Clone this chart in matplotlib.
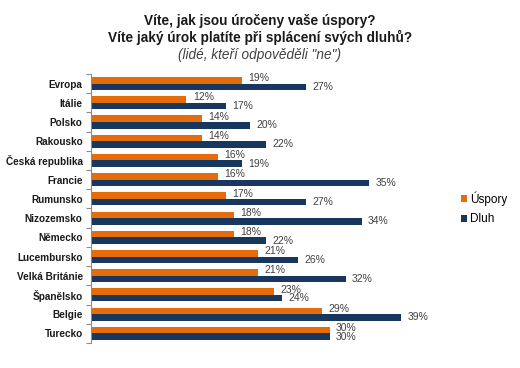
import numpy as np
import matplotlib.pyplot as plt
from matplotlib.ticker import FixedLocator, NullLocator

# Data
zeme = ['Evropa', 'Itálie', 'Polsko', 'Rakousko', 'Česká republika', 'Francie',
        'Rumunsko', 'Nizozemsko', 'Německo', 'Lucembursko', 'Velká Británie',
        'Španělsko', 'Belgie', 'Turecko']
uspory = [19, 12, 14, 14, 16, 16, 17, 18, 18, 21, 21, 23, 29, 30]
dluh = [27, 17, 20, 22, 19, 35, 27, 34, 22, 26, 32, 24, 39, 30]

ORANGE = '#E46C0A'
NAVY = '#17375E'
TEXT = '#404040'

plt.rcParams['font.family'] = ['Liberation Sans', 'DejaVu Sans']

fig = plt.figure(figsize=(5.2, 3.68), dpi=100)
ax = fig.add_axes([0.175, 0.068, 0.6885, 0.731])

n = len(zeme)
y = np.arange(n)
h = 0.34

ax.barh(y - h / 2, uspory, height=h, color=ORANGE, label='Úspory')
ax.barh(y + h / 2, dluh, height=h, color=NAVY, label='Dluh')

# popisky hodnot
for i in range(n):
    ax.annotate(f'{uspory[i]}%', (uspory[i], y[i] - h / 2), xytext=(4.5, 1.5),
                textcoords='offset points', va='center', ha='left',
                fontsize=7.5, color=TEXT)
    ax.annotate(f'{dluh[i]}%', (dluh[i], y[i] + h / 2), xytext=(4.5, 0),
                textcoords='offset points', va='center', ha='left',
                fontsize=7.5, color=TEXT)

ax.set_xlim(0, 45)
ax.set_ylim(n - 0.5, -0.5)

ax.set_yticks(y)
ax.set_yticklabels(zeme, fontsize=7.2, fontweight='bold', color='#1a1a1a')
ax.yaxis.set_minor_locator(FixedLocator(np.arange(n + 1) - 0.5))
ax.tick_params(axis='y', which='major', length=0, pad=6)
ax.tick_params(axis='y', which='minor', length=3.5, color='#8c8c8c', width=0.8)
ax.xaxis.set_major_locator(NullLocator())

for s in ['top', 'right', 'bottom']:
    ax.spines[s].set_visible(False)
ax.spines['left'].set_color('#8c8c8c')
ax.spines['left'].set_linewidth(0.8)

fig.text(0.5, 0.943, 'Víte, jak jsou úročeny vaše úspory?', ha='center', va='center',
         fontsize=9.8, fontweight='bold', color='#1a1a1a')
fig.text(0.5, 0.898, 'Víte jaký úrok platíte při splácení svých dluhů?', ha='center',
         va='center', fontsize=9.8, fontweight='bold', color='#1a1a1a')
fig.text(0.5, 0.851, '(lidé, kteří odpověděli "ne")', ha='center', va='center',
         fontsize=9.8, style='italic', color=TEXT)

fig.legend(loc='center left', bbox_to_anchor=(0.887, 0.434), frameon=False,
           fontsize=8.5, handlelength=0.5, handleheight=0.5, handletextpad=0.25,
           labelspacing=0.65, borderaxespad=0, borderpad=0)

fig.savefig('out.png', dpi=100)
